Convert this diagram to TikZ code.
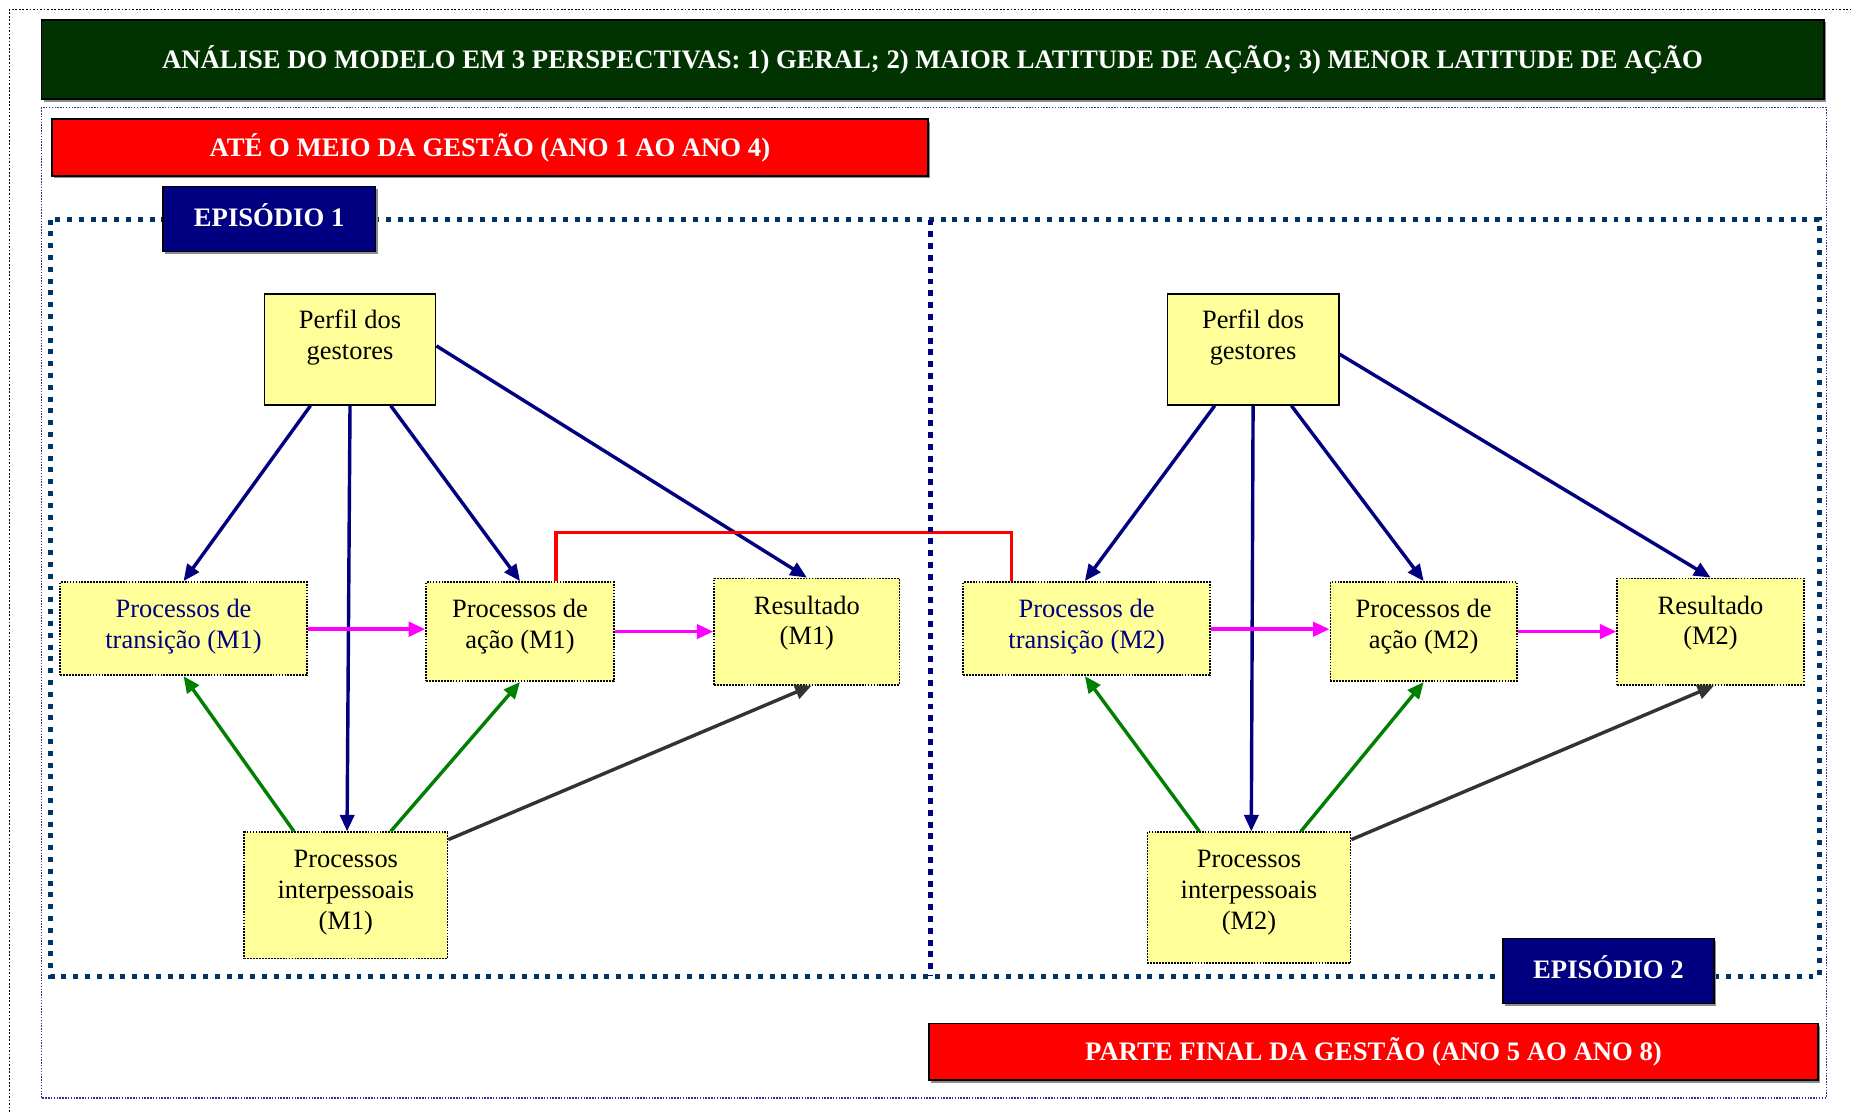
\documentclass[tikz,border=0pt]{standalone}
\usepackage{fontspec}
\setmainfont{Liberation Serif}
\usetikzlibrary{arrows.meta,shadows}

\definecolor{boxyellow}{HTML}{FFFF99}
\definecolor{bannergreen}{HTML}{003300}
\definecolor{epnavy}{HTML}{000080}
\definecolor{framenavy}{HTML}{003366}
\definecolor{linknavy}{HTML}{000080}
\definecolor{linkgreen}{HTML}{008000}
\definecolor{linkgray}{HTML}{333333}
\definecolor{linkmagenta}{HTML}{FF00FF}
\definecolor{bordernavy}{HTML}{333399}

\begin{document}
\begin{tikzpicture}[x=1pt,y=-1pt,
  every node/.style={font=\fontsize{22.4}{26}\selectfont},
  banner/.style={draw=black, line width=1.3pt, inner sep=0pt, text=white,
    font=\fontsize{22.6}{26}\selectfont\bfseries,
    drop shadow={shadow xshift=2pt, shadow yshift=-2pt, fill=black!45, opacity=1}},
  solidbox/.style={draw=black, line width=1.4pt, fill=boxyellow, inner sep=0pt},
  dotbox/.style={draw=black, line width=1.5pt, dash pattern=on 1.5pt off 1pt,
    fill=boxyellow, inner sep=0pt},
  link/.style={line width=2.9pt, -{Triangle[length=14pt,width=12pt]}},
  navylink/.style={link, draw=linknavy, fill=linknavy},
  greenlink/.style={link, draw=linkgreen, fill=linkgreen},
  graylink/.style={link, draw=linkgray, fill=linkgray},
  pinklink/.style={link, line width=3.2pt, draw=linkmagenta, fill=linkmagenta},
  bridge/.style={draw=red, line width=3pt},
  frameline/.style={draw=framenavy, line width=4.2pt, dash pattern=on 4.2pt off 5.8pt},
  divider/.style={draw=linknavy, line width=4.2pt, dash pattern=on 5pt off 5pt}
]
\useasboundingbox (0,0) rectangle (1568,942);
\fill[white] (0,0) rectangle (1568,942);

% page borders
\draw[black, line width=1.5pt, dash pattern=on 1.5pt off 1.5pt] (8,942) -- (8,8) -- (1568,8);
\draw[bordernavy, line width=1.2pt, dash pattern=on 1.2pt off 1.2pt] (35,91) rectangle (1547,930);

% frame around both episodes
\draw[frameline] (43,186) rectangle (1541,827);

% headers
\node[banner, fill=bannergreen, minimum width=1510pt, minimum height=67pt] (title) at (790,50.5)
  {\raisebox{-2pt}{ANÁLISE DO MODELO EM 3 PERSPECTIVAS: 1) GERAL; 2) MAIOR LATITUDE DE AÇÃO; 3) MENOR LATITUDE DE AÇÃO}};
\node[banner, fill=red, minimum width=742pt, minimum height=48pt] (phase1) at (415,125)
  {ATÉ O MEIO DA GESTÃO (ANO 1 AO ANO 4)};
\node[banner, fill=red, minimum width=753pt, minimum height=48pt] (phase2) at (1163.5,891)
  {PARTE FINAL DA GESTÃO (ANO 5 AO ANO 8)};

% episode 1
\node[solidbox] (P1) at (296.5,296)
  {\parbox[c][94pt][t]{145pt}{\centering\vspace*{11pt}\strut Perfil dos\\gestores}};
\node[dotbox, text=linknavy] (T1) at (155.5,532.5)
  {\parbox[c][79pt][t]{209pt}{\centering\vspace*{12pt}\strut Processos de\\transição (M1)}};
\node[dotbox] (A1) at (440.5,535)
  {\parbox[c][84pt][t]{159pt}{\centering\vspace*{12pt}\strut Processos de\\ação (M1)}};
\node[dotbox] (R1) at (683.5,535)
  {\parbox[c][90pt][t]{157pt}{\centering\vspace*{12pt}\strut Resultado\\(M1)}};
\node[dotbox] (I1) at (293,758.5)
  {\parbox[c][107pt][t]{172pt}{\centering\vspace*{12pt}\strut Processos\\interpessoais\\(M1)}};

% episode 2
\node[solidbox] (P2) at (1061.5,296)
  {\parbox[c][94pt][t]{145pt}{\centering\vspace*{11pt}\strut Perfil dos\\gestores}};
\node[dotbox, text=linknavy] (T2) at (920.5,532.5)
  {\parbox[c][79pt][t]{209pt}{\centering\vspace*{12pt}\strut Processos de\\transição (M2)}};
\node[dotbox] (A2) at (1206,535)
  {\parbox[c][84pt][t]{158pt}{\centering\vspace*{12pt}\strut Processos de\\ação (M2)}};
\node[dotbox] (R2) at (1449,535)
  {\parbox[c][90pt][t]{158pt}{\centering\vspace*{12pt}\strut Resultado\\(M2)}};
\node[dotbox] (I2) at (1058,760.5)
  {\parbox[c][111pt][t]{172pt}{\centering\vspace*{12pt}\strut Processos\\interpessoais\\(M2)}};

% links, episode 1
\draw[navylink] ([xshift=-33.5pt]P1.south) -- (T1.north);
\draw[navylink] (P1.south) -- ([xshift=1pt]I1.north);
\draw[navylink] ([xshift=34.5pt]P1.south) -- (A1.north);
\draw[navylink] ([yshift=3pt]P1.east) -- (R1.north);
\draw[pinklink] ([yshift=-0.5pt]T1.east) -- ([yshift=-0.5pt]T1.east -| A1.west);
\draw[pinklink] (A1.east) -- (R1.west);
\draw[greenlink] ([xshift=-44pt]I1.north) -- (T1.south);
\draw[greenlink] ([xshift=38pt]I1.north) -- (A1.south);
\draw[graylink] ([yshift=-7pt]I1.north east) -- ([xshift=4pt]R1.south);

% links, episode 2
\draw[navylink] ([xshift=-32.5pt]P2.south) -- ([xshift=-1.5pt]T2.north);
\draw[navylink] (P2.south) -- ([xshift=2pt]I2.north);
\draw[navylink] ([xshift=32.5pt]P2.south) -- (A2.north);
\draw[navylink] ([yshift=-4pt]P2.east) -- (R2.north);
\draw[pinklink] ([yshift=-0.5pt]T2.east) -- ([yshift=-0.5pt]T2.east -| A2.west);
\draw[pinklink] (A2.east) -- (R2.west);
\draw[greenlink] ([xshift=-42pt]I2.north) -- ([xshift=-1.5pt]T2.south);
\draw[greenlink] ([xshift=44pt]I2.north) -- (A2.south);
\draw[graylink] ([yshift=-7pt]I2.north east) -- ([xshift=3pt]R2.south);

% link between the two episodes
\draw[bridge] ([xshift=30.5pt]A1.north) -- ++(0,-41) -| ([xshift=-63.5pt]T2.north);

% divider between the episodes
\draw[divider] (788,186) -- (788,827);

% episode labels
\node[banner, fill=epnavy, minimum width=180pt, minimum height=55pt] (ep1) at (228,185.5)
  {\raisebox{7pt}{EPISÓDIO 1}};
\node[banner, fill=epnavy, minimum width=179pt, minimum height=55pt] (ep2) at (1362.5,822.5)
  {\raisebox{7pt}{EPISÓDIO 2}};
\end{tikzpicture}
\end{document}
